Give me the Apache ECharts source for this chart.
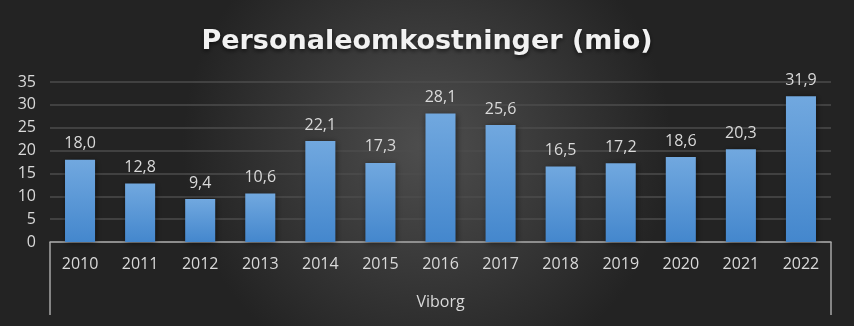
<!DOCTYPE html>
<html><head><meta charset="utf-8">
<script src="https://cdn.jsdelivr.net/npm/echarts@6/dist/echarts.min.js"></script>
<style>html,body{margin:0;padding:0;}#c{width:854px;height:326px;}</style>
</head><body><div id="c"></div>
<script>
const categories = ['2010','2011','2012','2013','2014','2015','2016','2017','2018','2019','2020','2021','2022'];
const values = [18.0, 12.8, 9.4, 10.6, 22.1, 17.3, 28.1, 25.6, 16.5, 17.2, 18.6, 20.3, 31.9];
const groupLabels = ['Viborg'];
const titleText = 'Personaleomkostninger (mio)';

const chart = echarts.init(document.getElementById('c'));
const txt = '#d9d9d9';
chart.setOption({
  backgroundColor: new echarts.graphic.RadialGradient(0.5, 0.45, 0.75, [
    {offset: 0, color: '#4e4e4e'}, {offset: 1, color: '#232323'}
  ]),
  title: {
    text: titleText, left: 'center', top: 23,
    textStyle: {color: '#f2f2f2', fontFamily: 'DejaVu Sans', fontWeight: 'bold', fontSize: 27,
      textShadowColor: 'rgba(0,0,0,0.6)', textShadowBlur: 4, textShadowOffsetY: 2}
  },
  grid: {left: 50, right: 23, top: 82, bottom: 84, containLabel: false},
  xAxis: [{
    type: 'category', data: categories, position: 'bottom',
    axisLine: {show: true, lineStyle: {color: '#a6a6a6', width: 1.5}},
    axisTick: {show: false},
    axisLabel: {color: txt, fontFamily: 'Open Sans', fontSize: 16, margin: 14}
  }, {
    type: 'category', data: groupLabels, position: 'bottom',
    axisLine: {show: false},
    axisTick: {show: true, length: 73, interval: 0, lineStyle: {color: '#a6a6a6', width: 1.5}},
    axisLabel: {color: txt, fontFamily: 'Open Sans', fontSize: 16, margin: 52}
  }],
  yAxis: {
    type: 'value', min: 0, max: 35, interval: 5,
    axisLine: {show: false}, axisTick: {show: false},
    splitLine: {lineStyle: {color: '#4d4d4d', width: 1.5}},
    axisLabel: {color: txt, fontFamily: 'Open Sans', fontSize: 16, margin: 14}
  },
  series: [{
    type: 'bar', data: values, xAxisIndex: 0, barWidth: '50%',
    itemStyle: {
      color: new echarts.graphic.LinearGradient(0, 0, 0, 1, [
        {offset: 0, color: '#71a8df'}, {offset: 1, color: '#4487cd'}
      ]),
      shadowColor: 'rgba(0,0,0,0.5)', shadowBlur: 6, shadowOffsetX: 1, shadowOffsetY: 1
    },
    label: {
      show: true, position: 'top', distance: 8, color: txt, fontFamily: 'Open Sans', fontSize: 16,
      formatter: p => p.value.toFixed(1).replace('.', ',')
    }
  }]
});
</script></body></html>
